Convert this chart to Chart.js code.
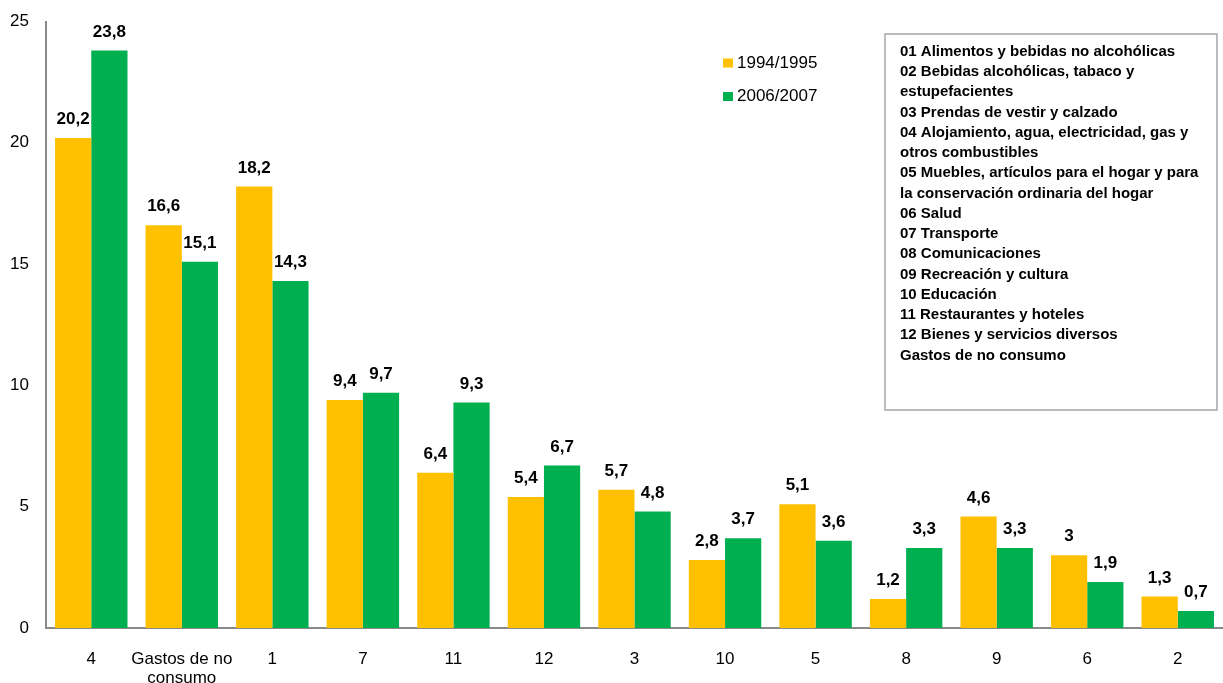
<!DOCTYPE html>
<html>
<head>
<meta charset="utf-8">
<script src="https://cdn.jsdelivr.net/npm/chart.js@4/dist/chart.umd.min.js"></script>
<style>
  html, body { margin: 0; padding: 0; background: #fff; }
  #wrap { width: 1223px; height: 683px; position: relative; }
</style>
</head>
<body>
<div id="wrap"><canvas id="chart" width="1223" height="683"></canvas></div>
<script>
// Categorías (divisiones de gasto) ordenadas por peso en 2006/2007
const categories = ['4', ['Gastos de no', 'consumo'], '1', '7', '11', '12', '3', '10', '5', '8', '9', '6', '2'];

// Porcentaje del gasto total por periodo
const seriesNames = ['1994/1995', '2006/2007'];
const values1994 = [20.2, 16.6, 18.2, 9.4, 6.4, 5.4, 5.7, 2.8, 5.1, 1.2, 4.6, 3, 1.3];
const values2006 = [23.8, 15.1, 14.3, 9.7, 9.3, 6.7, 4.8, 3.7, 3.6, 3.3, 3.3, 1.9, 0.7];

// Escala del eje vertical
const yTicks = [0, 5, 10, 15, 20, 25];

// Clave de las divisiones
const keyLines = [
  '01 Alimentos y bebidas no alcohólicas',
  '02 Bebidas alcohólicas, tabaco y',
  'estupefacientes',
  '03 Prendas de vestir y calzado',
  '04 Alojamiento, agua, electricidad, gas y',
  'otros combustibles',
  '05 Muebles, artículos para el hogar y para',
  'la conservación ordinaria del hogar',
  '06 Salud',
  '07 Transporte',
  '08 Comunicaciones',
  '09 Recreación y cultura',
  '10 Educación',
  '11 Restaurantes y hoteles',
  '12 Bienes y servicios diversos',
  'Gastos de no consumo'
];

const colors = ['#FFC000', '#00B050'];
const FONT = '"Liberation Sans", Arial, sans-serif';

// Etiquetas de valor sobre cada barra (coma decimal)
const valueLabels = {
  id: 'valueLabels',
  afterDatasetsDraw(chart) {
    const ctx = chart.ctx;
    ctx.save();
    ctx.font = 'bold 17px ' + FONT;
    ctx.fillStyle = '#000';
    ctx.textAlign = 'center';
    ctx.textBaseline = 'middle';
    chart.data.datasets.forEach((ds, i) => {
      const meta = chart.getDatasetMeta(i);
      meta.data.forEach((bar, j) => {
        const txt = String(ds.data[j]).replace('.', ',');
        ctx.fillText(txt, bar.x, bar.y - 18.5);
      });
    });
    ctx.restore();
  }
};

// Leyenda de series dentro del área de trazado
const seriesLegend = {
  id: 'seriesLegend',
  afterDraw(chart) {
    const ctx = chart.ctx;
    ctx.save();
    ctx.font = '17px ' + FONT;
    ctx.textBaseline = 'middle';
    ctx.textAlign = 'left';
    chart.data.datasets.forEach((ds, i) => {
      const cy = 63 + i * 33.5;
      ctx.fillStyle = ds.backgroundColor;
      ctx.fillRect(723, cy - 4.5, 10, 9);
      ctx.fillStyle = '#000';
      ctx.fillText(ds.label, 737, cy);
    });
    ctx.restore();
  }
};

// Recuadro con la clave de divisiones
const keyBox = {
  id: 'keyBox',
  afterDraw(chart) {
    const ctx = chart.ctx;
    ctx.save();
    ctx.fillStyle = '#fff';
    ctx.fillRect(885, 34, 332, 376);
    ctx.strokeStyle = '#a6a6a6';
    ctx.lineWidth = 1.5;
    ctx.strokeRect(885, 34, 332, 376);
    ctx.font = 'bold 15px ' + FONT;
    ctx.fillStyle = '#000';
    ctx.textAlign = 'left';
    ctx.textBaseline = 'middle';
    keyLines.forEach((line, i) => {
      ctx.fillText(line, 900, 51.7 + i * 20.25);
    });
    ctx.restore();
  }
};

new Chart(document.getElementById('chart'), {
  type: 'bar',
  data: {
    labels: categories,
    datasets: [
      { label: seriesNames[0], data: values1994, backgroundColor: colors[0] },
      { label: seriesNames[1], data: values2006, backgroundColor: colors[1] }
    ]
  },
  options: {
    responsive: false,
    animation: false,
    layout: { padding: { top: 21.5, left: 0, right: 0, bottom: 0 } },
    datasets: { bar: { categoryPercentage: 0.8, barPercentage: 1.0 } },
    plugins: {
      legend: { display: false },
      tooltip: { enabled: false }
    },
    scales: {
      x: {
        grid: { display: false, drawTicks: false },
        border: { display: true, color: '#898989', width: 2 },
        ticks: {
          color: '#000',
          font: { family: FONT, size: 17, lineHeight: 1.12 },
          padding: 22,
          maxRotation: 0,
          autoSkip: false
        },
        afterFit(scale) {
          scale.height = 55;
          scale.paddingLeft = 0;
          scale.paddingRight = 0;
        }
      },
      y: {
        min: yTicks[0],
        max: yTicks[yTicks.length - 1],
        grid: { display: false, drawTicks: false },
        border: { display: true, color: '#898989', width: 2 },
        afterBuildTicks(scale) { scale.ticks = yTicks.map(v => ({ value: v })); },
        ticks: {
          color: '#000',
          font: { family: FONT, size: 17 },
          padding: 17
        },
        afterFit(scale) {
          scale.width = 46;
          scale.paddingTop = 0;
          scale.paddingBottom = 0;
        }
      }
    }
  },
  plugins: [valueLabels, seriesLegend, keyBox]
});
</script>
</body>
</html>
